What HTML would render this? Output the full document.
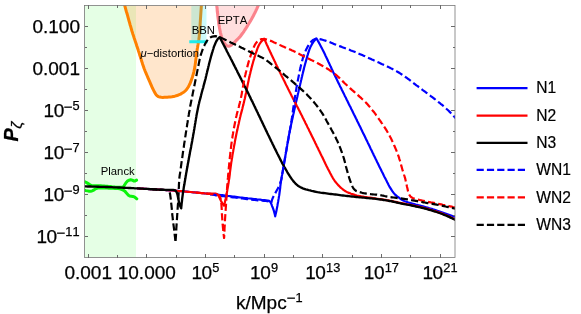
<!DOCTYPE html><html><head><meta charset="utf-8"><title>Power spectrum</title><style>html,body{margin:0;padding:0;background:#fff}body{width:581px;height:314px;overflow:hidden}</style></head><body><svg width="581" height="314" viewBox="0 0 581 314" style="display:block;will-change:transform">
<rect width="581" height="314" fill="#fff"/>
<defs><clipPath id="c"><rect x="84.5" y="5.4" width="370.5" height="252.1"/></clipPath></defs>
<g clip-path="url(#c)" fill="none" stroke-linejoin="round">
<rect x="84.5" y="5.4" width="51.5" height="252.1" fill="#00FF00" fill-opacity="0.1"/>
<path d="M121.9 -4.0L122.3 -2.6L122.8 -1.1L123.2 0.4L123.6 1.8L124.1 3.3L124.5 4.7L124.9 6.2L125.3 7.6L125.7 9.1L126.1 10.6L126.5 12.0L127.0 13.5L127.4 14.9L127.8 16.4L128.2 17.9L128.6 19.3L129.0 20.8L129.4 22.2L129.8 23.7L130.2 25.2L130.7 26.6L131.1 28.1L131.5 29.5L131.9 31.0L132.4 32.4L132.8 33.9L133.3 35.3L133.8 36.8L134.2 38.2L134.7 39.6L135.2 41.1L135.7 42.5L136.2 43.9L136.6 45.4L137.1 46.8L137.6 48.3L138.1 49.7L138.5 51.1L139.0 52.6L139.5 54.0L139.9 55.5L140.4 56.9L140.8 58.4L141.3 59.8L141.7 61.3L142.2 62.7L142.6 64.2L143.1 65.6L143.6 67.0L144.1 68.5L144.7 69.9L145.2 71.3L145.8 72.7L146.4 74.1L147.0 75.5L147.6 76.9L148.2 78.3L148.8 79.7L149.4 81.0L150.0 82.4L150.6 83.8L151.2 85.2L151.8 86.6L152.4 88.0L153.1 89.3L153.8 90.7L154.5 92.0L155.2 93.4L156.1 94.7L157.1 95.8L158.4 96.6L159.8 97.1L161.3 97.3L162.9 97.4L164.4 97.3L165.9 97.3L167.4 97.2L168.9 97.1L170.4 97.0L171.9 96.8L173.4 96.5L174.9 96.2L176.4 95.7L177.8 95.3L179.2 94.7L180.6 94.1L181.9 93.3L183.2 92.5L184.4 91.6L185.6 90.6L186.6 89.5L187.5 88.2L188.3 87.0L189.0 85.6L189.7 84.3L190.3 82.9L190.9 81.4L191.4 80.0L191.9 78.6L192.4 77.2L192.8 75.7L193.2 74.3L193.6 72.8L194.0 71.3L194.3 69.8L194.6 68.4L194.9 66.9L195.1 65.4L195.3 63.9L195.5 62.4L195.7 60.8L195.9 59.3L196.1 57.8L196.3 56.3L196.5 54.8L196.7 53.3L196.9 51.8L197.1 50.3L197.3 48.8L197.6 47.3L197.8 45.8L198.1 44.3L198.3 42.8L198.5 41.3L198.8 39.8L199.0 38.3L199.2 36.8L199.3 35.3L199.5 33.8L199.6 32.3L199.7 30.8L199.9 29.3L200.0 27.8L200.0 26.3L200.1 24.7L200.2 23.2L200.3 21.7L200.4 20.2L200.5 18.7L200.6 17.2L200.7 15.7L200.8 14.2L200.9 12.6L201.0 11.1L201.1 9.6L201.2 8.1L201.3 6.6L201.4 5.1L201.5 3.6L201.6 2.1L201.7 0.5L201.8 -1.0L201.9 -2.5L202.0 -4.0Z" fill="#FF8000" fill-opacity="0.2" stroke="#FF8000" stroke-width="3"/>
<rect x="191.3" y="5.4" width="15.2" height="36.3" fill="#00E5E5" fill-opacity="0.2"/>
<path d="M189.3 41.7H207.6" stroke="#1FEAEA" stroke-width="3"/>
<path d="M215.9 -4.0L216.1 -2.5L216.2 -0.9L216.4 0.6L216.5 2.1L216.6 3.6L216.8 5.2L216.9 6.7L217.1 8.2L217.2 9.8L217.3 11.3L217.5 12.8L217.7 14.3L217.8 15.9L218.0 17.4L218.2 18.9L218.4 20.4L218.6 21.9L218.8 23.5L219.0 25.0L219.3 26.5L219.5 28.0L219.8 29.5L220.1 31.0L220.4 32.6L220.8 34.0L221.1 35.5L221.5 37.0L222.0 38.4L222.5 39.9L223.1 41.3L223.9 42.6L224.9 44.0L226.1 45.2L227.4 46.0L228.8 46.2L230.3 45.8L231.7 44.9L232.9 43.9L234.0 42.8L235.0 41.8L236.1 40.7L237.2 39.6L238.3 38.5L239.4 37.4L240.4 36.2L241.3 35.0L242.2 33.8L243.1 32.6L244.0 31.3L244.8 30.0L245.7 28.7L246.5 27.4L247.3 26.1L248.1 24.8L248.9 23.5L249.7 22.2L250.5 20.9L251.3 19.5L252.0 18.2L252.8 16.9L253.5 15.5L254.2 14.1L254.9 12.8L255.6 11.4L256.2 10.0L256.9 8.6L257.5 7.2L258.1 5.8L258.8 4.4L259.4 3.0L260.0 1.6L260.6 0.2L261.2 -1.2L261.9 -2.6L262.5 -4.0Z" fill="#FF8080" fill-opacity="0.26" stroke="#FB838C" stroke-width="3.1"/>
<path d="M84.5 181.7L86.0 182.3L87.4 183.1L88.7 183.9L90.0 184.8L91.4 185.6L92.9 185.7L94.5 185.7L96.1 185.7L97.7 185.7L99.3 185.7L100.8 185.8L102.4 185.9L104.0 186.0L105.5 186.2L107.1 186.3L108.7 186.5L110.3 186.6L111.8 186.8L113.4 186.9L115.0 187.1L116.6 187.2L118.1 187.2L119.8 187.2L121.4 187.2L122.8 187.2L123.8 186.3L124.7 184.8L125.7 183.2L126.7 181.9L127.7 180.8L129.1 180.2L130.7 179.8L132.2 180.1L133.7 180.9L135.1 180.9L136.6 180.1" stroke="#0CF40C" stroke-width="3" stroke-linecap="round"/>
<path d="M84.5 190.2L86.0 190.6L87.6 190.9L89.1 191.2L90.7 191.3L92.2 190.9L93.6 190.2L94.9 189.3L96.3 188.5L97.7 188.0L99.3 188.0L100.8 188.0L102.4 188.0L104.0 188.1L105.5 188.1L107.1 188.1L108.7 188.2L110.3 188.2L111.9 188.3L113.4 188.3L115.0 188.4L116.6 188.5L118.1 188.6L119.7 188.9L121.2 189.3L122.7 189.9L124.1 190.6L125.2 191.5L126.2 192.8L127.3 194.0L128.4 195.2L129.7 196.0L131.2 196.2L132.8 196.4L134.3 196.9L135.6 197.8L136.8 198.8" stroke="#0CF40C" stroke-width="3" stroke-linecap="round"/>
<path d="M137.0 188.4L138.5 188.5L140.0 188.5L141.6 188.6L143.1 188.7L144.6 188.8L146.1 188.9L147.7 189.0L149.2 189.1L150.7 189.1L152.2 189.2L153.8 189.3L155.3 189.4L156.8 189.5L158.3 189.6L159.9 189.7L161.4 189.8L162.9 189.9L164.4 190.0L165.9 190.1L167.5 190.2L169.0 190.3L170.5 190.4L172.0 190.5L173.6 190.6L175.1 190.7L176.6 190.8L178.1 190.9L179.6 191.1L181.2 191.2L182.7 191.3L184.2 191.4L185.7 191.6L187.3 191.7L188.8 191.9L190.3 192.0L191.8 192.1L193.3 192.3L194.9 192.4L196.4 192.6L197.9 192.7L199.4 192.9L200.9 193.0L202.4 193.2L204.0 193.3L205.5 193.5L207.0 193.6L208.5 193.8L210.0 193.9L211.6 194.1L213.1 194.3L214.6 194.4L216.1 194.6L217.6 194.7L219.1 194.9L220.7 195.1L222.2 195.2L223.7 195.4L225.2 195.6L226.7 195.8L228.2 196.0L229.8 196.1L231.3 196.3L232.8 196.5L234.3 196.7L235.8 196.9L237.3 197.1L238.8 197.3L240.4 197.5L241.9 197.6L243.4 197.8L244.9 198.0L246.4 198.2L247.9 198.4L249.5 198.5L251.0 198.7L252.5 198.9L254.0 199.1L255.5 199.2L257.0 199.4L258.6 199.5L260.1 199.7L261.6 199.9L263.1 200.0L264.6 200.1L266.1 200.3L267.7 200.5L269.1 200.9L270.3 201.8L271.0 203.2L271.6 204.6L272.1 206.1L272.7 207.5L273.2 208.9L273.7 210.3L274.1 211.8L274.5 213.3L274.9 214.8L275.2 216.3L275.5 214.8L275.9 213.3L276.2 211.8L276.5 210.4L276.8 208.9L277.1 207.4L277.4 205.9L277.6 204.4L277.9 202.9L278.2 201.4L278.4 199.9L278.7 198.4L278.9 196.9L279.2 195.4L279.4 193.9L279.6 192.4L279.8 190.9L280.0 189.4L280.2 187.9L280.3 186.4L280.5 184.9L280.7 183.4L280.9 181.9L281.1 180.4L281.4 178.9L281.6 177.4L281.9 175.9L282.2 174.4L282.4 172.9L282.7 171.4L283.0 169.9L283.2 168.4L283.5 166.9L283.7 165.4L284.0 163.9L284.2 162.4L284.5 160.9L284.8 159.5L285.0 158.0L285.3 156.5L285.5 155.0L285.8 153.5L286.0 152.0L286.3 150.5L286.5 149.0L286.8 147.5L287.1 146.0L287.3 144.5L287.6 143.0L287.8 141.5L288.1 140.0L288.4 138.5L288.6 137.0L288.9 135.5L289.2 134.0L289.5 132.6L289.8 131.1L290.1 129.6L290.4 128.1L290.7 126.6L291.0 125.1L291.3 123.6L291.6 122.2L291.9 120.7L292.3 119.2L292.6 117.7L292.9 116.2L293.2 114.7L293.6 113.3L293.9 111.8L294.2 110.3L294.6 108.8L294.9 107.3L295.2 105.9L295.6 104.4L295.9 102.9L296.2 101.4L296.6 99.9L296.9 98.5L297.3 97.0L297.6 95.5L297.9 94.0L298.3 92.5L298.6 91.1L298.9 89.6L299.3 88.1L299.6 86.6L300.0 85.1L300.3 83.7L300.7 82.2L301.0 80.7L301.4 79.2L301.7 77.8L302.1 76.3L302.4 74.8L302.8 73.3L303.1 71.9L303.5 70.4L303.9 68.9L304.2 67.4L304.6 66.0L305.0 64.5L305.4 63.0L305.8 61.6L306.2 60.1L306.6 58.7L307.0 57.2L307.4 55.7L307.9 54.3L308.3 52.8L308.8 51.3L309.3 49.9L309.8 48.5L310.4 47.1L311.1 45.8L311.8 44.4L312.6 43.1L313.4 41.8L314.3 40.7L315.4 39.5L316.5 38.5L317.3 39.8L318.0 41.1L318.8 42.4L319.5 43.7L320.2 45.1L320.9 46.4L321.6 47.7L322.3 49.1L323.0 50.4L323.7 51.8L324.3 53.1L325.0 54.5L325.6 55.9L326.3 57.2L326.9 58.6L327.6 60.0L328.2 61.4L328.9 62.7L329.5 64.1L330.1 65.5L330.8 66.8L331.4 68.2L332.0 69.6L332.7 71.0L333.3 72.3L334.0 73.7L334.6 75.1L335.3 76.4L336.0 77.8L336.6 79.1L337.3 80.5L337.9 81.8L338.6 83.2L339.3 84.6L339.9 85.9L340.6 87.3L341.3 88.6L341.9 90.0L342.6 91.3L343.3 92.7L344.0 94.1L344.6 95.4L345.3 96.8L346.0 98.1L346.6 99.5L347.3 100.8L348.0 102.2L348.6 103.5L349.3 104.9L350.0 106.3L350.7 107.6L351.3 109.0L352.0 110.3L352.7 111.7L353.3 113.0L354.0 114.4L354.7 115.7L355.3 117.1L356.0 118.5L356.7 119.8L357.3 121.2L358.0 122.5L358.7 123.9L359.3 125.2L360.0 126.6L360.7 128.0L361.3 129.3L362.0 130.7L362.6 132.0L363.3 133.4L364.0 134.8L364.6 136.1L365.3 137.5L365.9 138.8L366.6 140.2L367.3 141.6L367.9 142.9L368.6 144.3L369.2 145.6L369.9 147.0L370.5 148.4L371.2 149.7L371.9 151.1L372.5 152.5L373.2 153.8L373.8 155.2L374.5 156.5L375.2 157.9L375.8 159.3L376.5 160.6L377.1 162.0L377.8 163.3L378.5 164.7L379.1 166.0L379.8 167.4L380.5 168.8L381.1 170.1L381.8 171.5L382.5 172.8L383.2 174.2L383.8 175.5L384.5 176.9L385.2 178.2L385.9 179.6L386.6 180.9L387.2 182.3L387.9 183.6L388.6 185.0L389.3 186.3L390.1 187.6L390.9 188.9L391.7 190.2L392.5 191.4L393.4 192.6L394.4 193.8L395.4 194.9L396.6 195.9L397.8 196.8L399.0 197.7L400.2 198.6L401.5 199.5L402.8 200.2L404.1 200.9L405.5 201.5L407.0 202.0L408.4 202.5L409.8 202.9L411.3 203.3L412.8 203.7L414.2 204.1L415.7 204.5L417.1 204.8L418.6 205.2L420.1 205.6L421.5 206.0L423.0 206.4L424.5 206.8L425.9 207.2L427.4 207.6L428.8 208.1L430.3 208.5L431.7 208.9L433.1 209.4L434.6 209.8L436.0 210.3L437.5 210.8L438.9 211.2L440.3 211.7L441.8 212.2L443.2 212.7L444.6 213.2L446.1 213.7L447.5 214.2L448.9 214.7L450.3 215.2L451.7 215.7L453.2 216.2L454.6 216.8L456.0 217.3" stroke="#0000FF" stroke-width="2.2" stroke-linejoin="round"/>
<path d="M137.0 188.4L138.5 188.5L140.1 188.5L141.6 188.6L143.2 188.7L144.7 188.8L146.2 188.9L147.8 189.0L149.3 189.1L150.8 189.2L152.4 189.2L153.9 189.3L155.5 189.4L157.0 189.5L158.5 189.6L160.1 189.7L161.6 189.8L163.2 189.9L164.7 190.0L166.2 190.1L167.8 190.2L169.3 190.3L170.8 190.4L172.4 190.5L173.9 190.6L175.5 190.7L177.0 190.8L178.5 191.0L180.1 191.1L181.6 191.2L183.1 191.4L184.7 191.5L186.2 191.6L187.7 191.8L189.3 191.9L190.8 192.0L192.3 192.2L193.9 192.3L195.4 192.5L196.9 192.6L198.5 192.8L200.0 192.9L201.5 193.1L203.1 193.2L204.6 193.4L206.1 193.5L207.7 193.5L209.2 193.5L210.8 193.5L212.3 193.5L213.9 193.5L215.4 193.5L216.9 194.0L218.0 195.0L218.8 196.3L219.5 197.7L220.2 199.1L220.8 200.5L221.5 201.9L222.3 203.2L223.1 204.5L224.1 205.7L224.4 204.2L224.8 202.7L225.1 201.3L225.4 199.8L225.8 198.3L226.1 196.8L226.4 195.3L226.6 193.8L226.9 192.4L227.2 190.9L227.4 189.4L227.7 187.9L228.0 186.4L228.2 184.9L228.5 183.4L228.7 181.9L228.9 180.4L229.2 178.9L229.4 177.4L229.6 175.9L229.8 174.4L229.9 172.9L230.1 171.4L230.3 169.9L230.5 168.4L230.7 166.9L230.9 165.4L231.1 163.9L231.3 162.4L231.6 160.9L231.8 159.4L232.1 157.9L232.3 156.4L232.5 154.9L232.8 153.4L233.1 151.9L233.3 150.4L233.6 148.9L233.9 147.4L234.1 145.9L234.4 144.5L234.7 143.0L234.9 141.5L235.2 140.0L235.5 138.5L235.8 137.0L236.1 135.5L236.4 134.1L236.7 132.6L237.0 131.1L237.4 129.6L237.7 128.1L238.0 126.6L238.3 125.2L238.7 123.7L239.0 122.2L239.3 120.7L239.7 119.2L240.0 117.8L240.4 116.3L240.7 114.8L241.1 113.4L241.5 111.9L241.9 110.4L242.3 109.0L242.6 107.5L243.0 106.0L243.4 104.6L243.7 103.1L244.1 101.6L244.4 100.1L244.8 98.7L245.1 97.2L245.4 95.7L245.7 94.2L246.1 92.7L246.4 91.2L246.7 89.8L247.0 88.3L247.3 86.8L247.6 85.3L247.9 83.8L248.2 82.3L248.5 80.9L248.8 79.4L249.1 77.9L249.5 76.4L249.8 74.9L250.2 73.5L250.5 72.0L250.9 70.5L251.3 69.1L251.6 67.6L252.0 66.1L252.4 64.6L252.8 63.2L253.2 61.7L253.6 60.3L254.1 58.8L254.5 57.4L255.0 55.9L255.4 54.5L255.9 53.0L256.4 51.6L256.9 50.1L257.4 48.7L258.0 47.2L258.6 45.8L259.3 44.5L260.0 43.3L260.9 42.1L261.9 41.0L263.0 39.9L264.2 38.9L264.8 40.3L265.5 41.6L266.1 43.0L266.7 44.4L267.4 45.8L268.0 47.1L268.6 48.5L269.3 49.9L269.9 51.2L270.5 52.6L271.2 54.0L271.8 55.3L272.5 56.7L273.1 58.1L273.8 59.4L274.4 60.8L275.1 62.1L275.7 63.5L276.4 64.9L277.0 66.2L277.7 67.6L278.3 68.9L279.0 70.3L279.7 71.7L280.3 73.0L281.0 74.4L281.6 75.7L282.3 77.1L283.0 78.4L283.6 79.8L284.3 81.1L285.0 82.5L285.6 83.8L286.3 85.2L287.0 86.5L287.7 87.9L288.3 89.2L289.0 90.6L289.7 91.9L290.4 93.3L291.0 94.6L291.7 96.0L292.4 97.3L293.1 98.7L293.8 100.0L294.5 101.3L295.2 102.7L295.9 104.0L296.6 105.4L297.3 106.7L298.0 108.0L298.7 109.4L299.4 110.7L300.0 112.1L300.7 113.4L301.4 114.8L302.1 116.1L302.7 117.5L303.4 118.8L304.1 120.2L304.8 121.5L305.4 122.9L306.1 124.2L306.8 125.6L307.4 126.9L308.1 128.3L308.8 129.6L309.4 131.0L310.1 132.3L310.8 133.7L311.4 135.1L312.1 136.4L312.8 137.8L313.4 139.1L314.1 140.5L314.8 141.8L315.4 143.2L316.1 144.5L316.7 145.9L317.4 147.2L318.1 148.6L318.7 150.0L319.4 151.3L320.1 152.7L320.7 154.0L321.4 155.4L322.1 156.7L322.7 158.1L323.4 159.5L324.0 160.8L324.7 162.2L325.3 163.5L326.0 164.9L326.6 166.3L327.3 167.6L328.0 169.0L328.7 170.3L329.4 171.6L330.1 173.0L330.8 174.3L331.5 175.6L332.3 177.0L333.0 178.3L333.8 179.5L334.7 180.8L335.6 182.0L336.5 183.1L337.5 184.3L338.5 185.4L339.6 186.5L340.7 187.6L341.8 188.5L343.0 189.5L344.2 190.4L345.5 191.2L346.8 191.9L348.2 192.6L349.6 193.1L351.0 193.7L352.4 194.1L353.9 194.6L355.3 195.1L356.8 195.5L358.2 195.8L359.7 196.1L361.2 196.4L362.7 196.6L364.2 196.9L365.7 197.1L367.2 197.3L368.7 197.5L370.1 197.7L371.6 197.9L373.1 198.1L374.6 198.3L376.1 198.6L377.6 198.8L379.1 199.0L380.6 199.2L382.1 199.4L383.6 199.6L385.1 199.8L386.6 200.1L388.1 200.3L389.6 200.6L391.0 200.8L392.5 201.1L394.0 201.5L395.5 201.8L396.9 202.1L398.4 202.5L399.9 202.8L401.4 203.1L402.8 203.4L404.3 203.7L405.8 204.0L407.3 204.3L408.8 204.6L410.2 204.9L411.7 205.2L413.2 205.5L414.7 205.8L416.2 206.1L417.6 206.4L419.1 206.7L420.6 207.1L422.0 207.4L423.5 207.8L425.0 208.2L426.4 208.5L427.9 208.9L429.3 209.4L430.8 209.8L432.2 210.2L433.7 210.7L435.1 211.1L436.5 211.6L438.0 212.1L439.4 212.6L440.8 213.1L442.2 213.6L443.6 214.2L445.0 214.8L446.4 215.3L447.8 215.9L449.2 216.5L450.5 217.2L451.9 217.8L453.3 218.5L454.6 219.1L456.0 219.8" stroke="#FF0000" stroke-width="2.2" stroke-linejoin="round"/>
<path d="M84.5 186.4L86.0 186.4L87.6 186.5L89.1 186.5L90.6 186.5L92.1 186.6L93.7 186.6L95.2 186.6L96.7 186.7L98.3 186.7L99.8 186.8L101.3 186.8L102.8 186.9L104.4 186.9L105.9 187.0L107.4 187.0L108.9 187.1L110.5 187.1L112.0 187.2L113.5 187.3L115.1 187.3L116.6 187.4L118.1 187.5L119.6 187.5L121.2 187.6L122.7 187.7L124.2 187.7L125.7 187.8L127.3 187.9L128.8 188.0L130.3 188.0L131.8 188.1L133.4 188.2L134.9 188.3L136.4 188.3L138.0 188.4L139.5 188.5L141.0 188.6L142.5 188.7L144.1 188.8L145.6 188.9L147.1 188.9L148.6 189.0L150.2 189.1L151.7 189.2L153.2 189.3L154.7 189.4L156.3 189.5L157.8 189.6L159.3 189.7L160.8 189.7L162.4 189.7L163.9 189.8L165.4 189.8L167.0 189.8L168.5 189.8L170.0 189.8L171.6 189.8L173.1 189.8L174.6 190.1L175.8 190.9L176.7 192.3L177.2 193.7L177.6 195.2L177.9 196.7L178.2 198.2L178.5 199.7L178.8 201.2L179.1 202.7L179.6 204.1L180.0 205.6L180.6 207.0L181.2 208.4L181.3 206.9L181.5 205.4L181.6 203.9L181.8 202.3L182.0 200.8L182.1 199.3L182.3 197.8L182.5 196.3L182.7 194.8L182.9 193.3L183.1 191.8L183.4 190.3L183.6 188.8L183.8 187.3L184.1 185.8L184.4 184.3L184.6 182.8L184.9 181.3L185.1 179.8L185.4 178.3L185.6 176.8L185.9 175.3L186.1 173.8L186.4 172.3L186.7 170.8L186.9 169.3L187.2 167.8L187.5 166.3L187.7 164.8L188.0 163.3L188.3 161.8L188.6 160.3L188.8 158.8L189.1 157.3L189.4 155.8L189.7 154.3L189.9 152.8L190.2 151.3L190.5 149.8L190.8 148.4L191.1 146.9L191.3 145.4L191.6 143.9L191.9 142.4L192.2 140.9L192.4 139.4L192.7 137.9L193.0 136.4L193.2 134.9L193.5 133.4L193.8 131.9L194.0 130.4L194.3 128.9L194.5 127.4L194.8 125.9L195.0 124.4L195.3 122.9L195.5 121.4L195.8 119.9L196.0 118.4L196.3 116.9L196.5 115.4L196.8 113.9L197.1 112.4L197.4 110.9L197.7 109.4L198.0 107.9L198.3 106.4L198.6 105.0L199.0 103.5L199.3 102.0L199.7 100.5L200.1 99.1L200.5 97.6L200.9 96.1L201.2 94.7L201.6 93.2L202.0 91.7L202.4 90.2L202.8 88.8L203.3 87.3L203.6 85.8L204.0 84.4L204.4 82.9L204.8 81.4L205.2 80.0L205.6 78.5L205.9 77.0L206.3 75.5L206.6 74.0L207.0 72.6L207.3 71.1L207.7 69.6L208.1 68.1L208.4 66.6L208.8 65.2L209.1 63.7L209.5 62.2L209.9 60.7L210.3 59.3L210.7 57.8L211.1 56.3L211.5 54.9L211.9 53.4L212.4 51.9L212.8 50.5L213.3 49.0L213.7 47.5L214.2 46.1L214.8 44.7L215.4 43.3L216.0 41.9L216.7 40.6L217.5 39.3L218.5 38.2L219.7 37.2L220.4 38.5L221.1 39.9L221.8 41.2L222.5 42.6L223.2 43.9L223.9 45.3L224.6 46.6L225.3 47.9L226.0 49.3L226.6 50.6L227.3 52.0L228.0 53.3L228.7 54.7L229.4 56.0L230.1 57.3L230.8 58.7L231.5 60.0L232.2 61.4L232.9 62.7L233.5 64.1L234.2 65.4L234.9 66.8L235.6 68.1L236.3 69.5L237.0 70.8L237.6 72.2L238.3 73.5L239.0 74.9L239.7 76.2L240.4 77.6L241.1 78.9L241.7 80.3L242.4 81.6L243.1 83.0L243.8 84.3L244.4 85.7L245.1 87.0L245.8 88.4L246.5 89.7L247.1 91.1L247.8 92.4L248.5 93.8L249.1 95.1L249.8 96.5L250.5 97.9L251.1 99.2L251.8 100.6L252.5 101.9L253.1 103.3L253.8 104.7L254.4 106.0L255.1 107.4L255.7 108.7L256.4 110.1L257.0 111.5L257.7 112.8L258.3 114.2L259.0 115.6L259.6 116.9L260.3 118.3L260.9 119.7L261.6 121.0L262.2 122.4L262.9 123.8L263.5 125.1L264.2 126.5L264.8 127.8L265.5 129.2L266.1 130.6L266.8 131.9L267.4 133.3L268.1 134.7L268.8 136.0L269.4 137.4L270.1 138.7L270.7 140.1L271.4 141.5L272.1 142.8L272.7 144.2L273.4 145.5L274.0 146.9L274.7 148.3L275.4 149.6L276.1 151.0L276.7 152.3L277.4 153.7L278.1 155.0L278.8 156.4L279.5 157.7L280.1 159.1L280.8 160.4L281.5 161.7L282.2 163.1L282.9 164.4L283.7 165.7L284.4 167.0L285.2 168.4L285.9 169.7L286.7 171.0L287.4 172.3L288.2 173.6L289.0 174.9L289.8 176.2L290.6 177.4L291.5 178.7L292.4 179.9L293.3 181.1L294.3 182.2L295.3 183.3L296.4 184.4L297.6 185.4L298.8 186.2L300.1 187.0L301.4 187.7L302.8 188.3L304.2 188.8L305.7 189.3L307.1 189.7L308.6 190.1L310.1 190.4L311.5 190.8L313.0 191.1L314.5 191.5L316.0 191.8L317.5 192.1L318.9 192.3L320.4 192.6L321.9 192.8L323.4 193.0L324.9 193.2L326.4 193.4L327.9 193.6L329.4 193.8L330.9 194.0L332.4 194.2L333.9 194.4L335.4 194.5L336.9 194.7L338.4 194.9L339.9 195.1L341.4 195.3L342.9 195.5L344.4 195.7L345.9 195.9L347.4 196.0L348.9 196.2L350.4 196.4L351.9 196.5L353.4 196.7L354.9 196.9L356.4 197.0L357.9 197.2L359.4 197.3L361.0 197.4L362.5 197.6L364.0 197.7L365.5 197.8L367.0 198.0L368.5 198.1L370.0 198.3L371.5 198.4L373.0 198.6L374.5 198.7L376.0 198.9L377.5 199.1L379.0 199.3L380.5 199.5L382.0 199.7L383.5 200.0L385.0 200.2L386.5 200.4L388.0 200.7L389.4 201.0L390.9 201.2L392.4 201.5L393.9 201.8L395.4 202.2L396.8 202.5L398.3 202.8L399.8 203.2L401.3 203.5L402.7 203.8L404.2 204.1L405.7 204.4L407.2 204.7L408.7 204.9L410.2 205.2L411.7 205.5L413.1 205.8L414.6 206.1L416.1 206.5L417.6 206.8L419.0 207.1L420.5 207.4L422.0 207.8L423.4 208.2L424.9 208.5L426.4 208.9L427.8 209.3L429.3 209.8L430.7 210.2L432.2 210.6L433.6 211.1L435.1 211.5L436.5 212.0L437.9 212.5L439.4 213.0L440.8 213.5L442.2 214.0L443.6 214.6L445.0 215.2L446.4 215.7L447.8 216.3L449.2 216.9L450.5 217.6L451.9 218.2L453.3 218.9L454.6 219.5L456.0 220.2" stroke="#000" stroke-width="2.35" stroke-linejoin="round"/>
<path d="M210.0 194.3L211.6 194.4L213.1 194.6L214.6 194.9L216.1 195.4L217.6 195.6L219.2 195.7L220.7 195.9L222.3 196.1L223.8 196.2L225.4 196.4L226.9 196.6L228.5 196.8L230.0 197.0L231.5 197.2L233.1 197.4L234.6 197.5L236.2 197.7L237.7 197.9L239.3 198.1L240.8 198.3L242.3 198.5L243.9 198.7L245.4 198.9L247.0 199.1L248.5 199.2L250.1 199.4L251.6 199.6L253.2 199.8L254.7 199.9L256.2 200.1L257.8 200.3L259.3 200.4L260.9 200.6L262.4 200.7L264.0 200.9L265.5 201.0L267.1 201.1L268.6 201.5L269.9 202.3L271.3 203.0L271.6 201.5L272.0 200.0L272.5 198.6L273.1 197.2L273.8 195.9L274.5 194.5L275.3 193.2L276.0 191.8L276.7 190.5L277.5 189.1L278.2 187.8L278.8 186.4L279.4 185.0L280.0 183.6L280.5 182.2L281.0 180.7L281.4 179.3L281.7 177.8L282.0 176.3L282.2 174.8L282.4 173.3L282.7 171.7L282.9 170.2L283.2 168.7L283.4 167.2L283.7 165.7L283.9 164.2L284.2 162.7L284.4 161.2L284.7 159.7L285.0 158.2L285.2 156.7L285.5 155.2L285.8 153.7L286.0 152.2L286.3 150.7L286.6 149.2L286.8 147.7L287.1 146.2L287.4 144.7L287.6 143.2L287.9 141.7L288.2 140.2L288.4 138.7L288.7 137.2L288.9 135.7L289.2 134.2L289.5 132.7L289.7 131.2L290.0 129.7L290.2 128.2L290.5 126.7L290.8 125.2L291.0 123.7L291.2 122.2L291.5 120.7L291.7 119.2L292.0 117.7L292.2 116.2L292.4 114.7L292.6 113.2L292.8 111.7L293.0 110.1L293.2 108.6L293.4 107.1L293.7 105.6L293.9 104.1L294.1 102.6L294.3 101.1L294.5 99.6L294.8 98.1L295.0 96.6L295.3 95.1L295.5 93.6L295.8 92.1L296.0 90.6L296.3 89.1L296.5 87.6L296.8 86.1L297.1 84.6L297.3 83.1L297.6 81.6L297.9 80.1L298.2 78.6L298.5 77.1L298.8 75.6L299.1 74.1L299.4 72.6L299.7 71.1L300.0 69.6L300.4 68.1L300.7 66.6L301.0 65.2L301.4 63.7L301.8 62.2L302.2 60.7L302.6 59.3L303.0 57.8L303.5 56.4L304.0 54.9L304.5 53.5L305.1 52.0L305.7 50.6L306.3 49.2L307.0 47.9L307.7 46.6L308.5 45.2L309.4 43.8L310.3 42.6L311.3 41.5L312.4 40.5L313.6 39.7L315.0 39.1L316.5 38.5L318.0 38.8L319.5 39.1L321.0 39.4L322.5 39.8L323.9 40.2L325.4 40.6L326.8 41.1L328.3 41.6L329.7 42.1L331.1 42.7L332.5 43.3L333.9 43.9L335.3 44.5L336.7 45.1L338.1 45.6L339.6 46.1L341.0 46.6L342.4 47.2L343.8 47.7L345.3 48.2L346.7 48.7L348.1 49.3L349.5 49.8L350.9 50.4L352.4 51.0L353.8 51.5L355.2 52.1L356.6 52.7L358.0 53.3L359.4 53.9L360.8 54.5L362.2 55.1L363.6 55.7L365.0 56.3L366.3 57.0L367.7 57.6L369.1 58.2L370.5 58.8L371.9 59.5L373.3 60.1L374.7 60.7L376.0 61.3L377.4 62.0L378.8 62.6L380.2 63.2L381.6 63.9L383.0 64.5L384.3 65.1L385.7 65.8L387.1 66.4L388.5 67.1L389.9 67.7L391.2 68.4L392.6 69.1L393.9 69.8L395.3 70.5L396.6 71.3L397.9 72.0L399.2 72.8L400.5 73.6L401.8 74.5L403.0 75.3L404.3 76.1L405.5 77.0L406.8 77.9L408.0 78.8L409.2 79.7L410.4 80.6L411.6 81.6L412.8 82.5L414.0 83.5L415.2 84.4L416.4 85.3L417.7 86.2L418.9 87.2L420.1 88.1L421.3 89.0L422.5 89.9L423.8 90.8L425.0 91.7L426.2 92.6L427.4 93.5L428.6 94.4L429.9 95.3L431.1 96.3L432.3 97.2L433.5 98.1L434.7 99.0L435.9 100.0L437.1 100.9L438.3 101.9L439.5 102.8L440.6 103.8L441.8 104.7L443.0 105.7L444.1 106.7L445.3 107.7L446.4 108.8L447.5 109.8L448.6 110.8L449.7 111.9L450.8 113.0L451.8 114.0L452.9 115.1L453.9 116.3L455.0 117.4L456.0 118.5" stroke="#0000FF" stroke-width="2.2" stroke-dasharray="7.2 3.2" stroke-linejoin="round"/>
<path d="M196.0 192.5L197.5 192.7L199.1 192.8L200.6 193.0L202.1 193.1L203.7 193.3L205.2 193.5L206.8 193.6L208.3 193.8L209.8 193.9L211.4 194.1L212.9 194.2L214.5 194.4L216.0 194.6L217.6 194.8L219.0 195.3L219.8 196.5L220.4 198.0L220.7 199.5L221.0 201.1L221.2 202.6L221.4 204.1L221.5 205.7L221.6 207.2L221.7 208.7L221.8 210.3L221.8 211.8L221.9 213.4L222.0 214.9L222.1 216.5L222.2 218.0L222.3 219.6L222.4 221.1L222.5 222.6L222.6 224.2L222.8 225.7L222.9 227.2L223.1 228.8L223.2 230.3L223.4 231.9L223.6 233.4L223.7 234.9L223.9 236.5L224.1 238.0L224.2 236.5L224.2 235.0L224.3 233.4L224.4 231.9L224.5 230.4L224.5 228.9L224.6 227.4L224.7 225.9L224.8 224.4L224.9 222.8L224.9 221.3L225.0 219.8L225.1 218.3L225.2 216.8L225.3 215.3L225.4 213.7L225.5 212.2L225.6 210.7L225.7 209.2L225.8 207.7L225.9 206.2L226.0 204.7L226.1 203.1L226.2 201.6L226.3 200.1L226.4 198.6L226.5 197.1L226.6 195.6L226.7 194.0L226.8 192.5L226.9 191.0L227.0 189.5L227.1 188.0L227.2 186.5L227.3 185.0L227.5 183.4L227.6 181.9L227.7 180.4L227.8 178.9L228.0 177.4L228.1 175.9L228.2 174.4L228.4 172.9L228.5 171.3L228.6 169.8L228.8 168.3L228.9 166.8L229.1 165.3L229.2 163.8L229.4 162.3L229.5 160.8L229.7 159.2L229.8 157.7L230.0 156.2L230.2 154.7L230.3 153.2L230.5 151.7L230.7 150.2L230.9 148.7L231.0 147.2L231.2 145.7L231.4 144.2L231.6 142.7L231.8 141.2L232.0 139.7L232.3 138.2L232.5 136.7L232.7 135.2L233.0 133.7L233.2 132.2L233.5 130.7L233.7 129.2L234.0 127.7L234.3 126.2L234.6 124.7L234.9 123.2L235.2 121.7L235.5 120.2L235.8 118.7L236.1 117.3L236.5 115.8L236.8 114.3L237.2 112.8L237.6 111.4L238.0 109.9L238.4 108.4L238.8 107.0L239.1 105.5L239.5 104.0L239.9 102.5L240.2 101.1L240.6 99.6L240.9 98.1L241.2 96.6L241.5 95.1L241.8 93.6L242.0 92.1L242.3 90.6L242.6 89.1L242.8 87.6L243.1 86.1L243.4 84.7L243.7 83.2L243.9 81.7L244.2 80.2L244.5 78.7L244.8 77.2L245.1 75.7L245.5 74.2L245.8 72.8L246.2 71.3L246.5 69.8L246.9 68.3L247.3 66.9L247.7 65.4L248.1 63.9L248.5 62.4L248.9 61.0L249.4 59.5L249.8 58.1L250.3 56.6L250.8 55.2L251.3 53.8L251.8 52.3L252.3 50.8L252.9 49.3L253.5 47.9L254.1 46.4L254.8 45.1L255.5 43.8L256.3 42.7L257.2 41.6L258.4 40.5L259.8 39.6L261.2 39.2L262.6 39.0L264.2 38.9L265.7 39.3L267.1 39.7L268.6 40.1L270.0 40.6L271.4 41.1L272.8 41.7L274.2 42.4L275.5 43.0L276.9 43.7L278.3 44.3L279.7 44.9L281.0 45.6L282.4 46.2L283.8 46.8L285.2 47.4L286.6 48.0L288.0 48.6L289.4 49.2L290.7 49.8L292.1 50.5L293.5 51.1L294.8 51.7L296.2 52.4L297.5 53.1L298.9 53.8L300.2 54.5L301.6 55.2L302.9 55.9L304.3 56.5L305.6 57.2L307.0 57.9L308.3 58.6L309.7 59.2L311.1 59.9L312.4 60.6L313.8 61.2L315.1 61.9L316.5 62.6L317.8 63.3L319.1 64.0L320.5 64.8L321.8 65.5L323.1 66.2L324.4 67.0L325.7 67.7L327.0 68.5L328.3 69.3L329.6 70.1L330.8 71.0L332.1 71.8L333.3 72.7L334.5 73.6L335.7 74.6L336.8 75.5L337.9 76.6L339.0 77.6L340.1 78.7L341.2 79.8L342.2 80.8L343.3 81.9L344.4 83.0L345.5 84.0L346.6 85.0L347.7 86.0L348.9 87.1L350.0 88.1L351.1 89.1L352.2 90.1L353.4 91.1L354.5 92.1L355.6 93.1L356.7 94.1L357.9 95.1L359.0 96.1L360.1 97.2L361.3 98.2L362.4 99.2L363.5 100.2L364.6 101.3L365.6 102.3L366.7 103.4L367.7 104.5L368.7 105.7L369.7 106.8L370.6 108.0L371.6 109.2L372.5 110.4L373.5 111.5L374.4 112.7L375.3 113.9L376.2 115.2L377.1 116.4L378.0 117.6L378.8 118.9L379.7 120.1L380.6 121.3L381.4 122.6L382.3 123.8L383.1 125.1L384.0 126.4L384.8 127.6L385.6 128.9L386.4 130.2L387.2 131.5L387.9 132.8L388.7 134.1L389.4 135.4L390.1 136.8L390.8 138.1L391.5 139.5L392.1 140.8L392.8 142.2L393.4 143.6L394.0 145.0L394.6 146.3L395.2 147.7L395.8 149.1L396.4 150.5L396.9 151.9L397.4 153.4L398.0 154.8L398.5 156.2L399.0 157.6L399.4 159.1L399.9 160.5L400.3 162.0L400.7 163.4L401.1 164.9L401.5 166.4L401.9 167.8L402.3 169.3L402.7 170.7L403.2 172.2L403.7 173.6L404.1 175.0L404.6 176.5L405.0 177.9L405.4 179.4L405.7 180.9L406.0 182.3L406.4 183.8L406.7 185.3L407.0 186.8L407.4 188.2L407.7 189.7L408.0 191.2L408.4 192.7L408.9 194.1L409.7 195.4L410.6 196.6L411.8 197.5L413.2 198.2L414.6 198.6L416.1 199.0L417.5 199.4L419.0 199.8L420.5 200.2L422.0 200.5L423.4 200.8L424.9 201.2L426.4 201.5L427.9 201.8L429.3 202.1L430.8 202.4L432.3 202.6L433.8 202.9L435.3 203.2L436.8 203.5L438.3 203.8L439.7 204.1L441.2 204.4L442.7 204.8L444.2 205.1L445.7 205.4L447.1 205.7L448.6 206.0L450.1 206.3L451.6 206.6L453.0 207.0L454.5 207.3L456.0 207.6" stroke="#FF0000" stroke-width="2.2" stroke-dasharray="7.2 3.2" stroke-linejoin="round"/>
<path d="M150.0 189.1L151.5 189.2L153.1 189.3L154.6 189.4L156.2 189.5L157.7 189.6L159.3 189.7L160.8 189.7L162.4 189.8L163.9 189.9L165.4 190.0L167.0 190.2L168.5 190.6L169.4 191.8L169.9 193.3L170.2 194.8L170.4 196.3L170.6 197.9L170.8 199.4L171.0 201.0L171.1 202.5L171.3 204.1L171.5 205.6L171.6 207.1L171.8 208.7L171.9 210.2L172.1 211.8L172.2 213.3L172.3 214.8L172.5 216.4L172.7 217.9L172.8 219.5L173.0 221.0L173.2 222.5L173.4 224.1L173.6 225.6L173.8 227.1L174.0 228.7L174.2 230.2L174.4 231.7L174.6 233.3L174.7 234.8L174.9 236.3L175.1 237.9L175.2 239.4L175.4 241.0L175.5 242.5L175.6 241.0L175.7 239.5L175.8 238.0L175.9 236.5L176.0 234.9L176.1 233.4L176.2 231.9L176.3 230.4L176.3 228.9L176.4 227.4L176.5 225.9L176.6 224.4L176.7 222.9L176.8 221.4L176.9 219.8L177.0 218.3L177.1 216.8L177.2 215.3L177.3 213.8L177.4 212.3L177.5 210.8L177.6 209.3L177.7 207.8L177.8 206.3L177.9 204.7L178.1 203.2L178.2 201.7L178.3 200.2L178.4 198.7L178.4 197.2L178.5 195.7L178.6 194.2L178.6 192.7L178.7 191.1L178.7 189.6L178.8 188.1L178.9 186.6L178.9 185.1L179.0 183.6L179.1 182.1L179.2 180.6L179.3 179.1L179.4 177.6L179.6 176.1L179.8 174.6L180.1 173.1L180.3 171.6L180.5 170.1L180.7 168.6L180.9 167.1L181.1 165.6L181.3 164.1L181.5 162.6L181.7 161.1L181.9 159.6L182.2 158.1L182.4 156.6L182.6 155.1L182.8 153.6L183.0 152.1L183.2 150.6L183.5 149.1L183.7 147.6L183.9 146.1L184.1 144.6L184.3 143.1L184.6 141.6L184.8 140.1L185.0 138.6L185.2 137.1L185.5 135.6L185.7 134.1L185.9 132.6L186.2 131.1L186.4 129.6L186.6 128.1L186.9 126.6L187.1 125.1L187.3 123.6L187.6 122.2L187.8 120.7L188.0 119.2L188.3 117.7L188.5 116.2L188.8 114.7L189.0 113.2L189.3 111.7L189.6 110.2L189.8 108.7L190.1 107.2L190.3 105.7L190.6 104.3L190.9 102.8L191.2 101.3L191.5 99.8L191.8 98.3L192.1 96.8L192.4 95.4L192.7 93.9L193.0 92.4L193.3 90.9L193.6 89.4L193.9 87.9L194.2 86.5L194.5 85.0L194.8 83.5L195.1 82.0L195.4 80.5L195.7 79.0L196.0 77.5L196.3 76.1L196.6 74.6L196.9 73.1L197.2 71.6L197.5 70.1L197.8 68.6L198.1 67.2L198.4 65.7L198.7 64.2L199.0 62.7L199.3 61.2L199.6 59.7L200.0 58.3L200.3 56.8L200.7 55.3L201.1 53.9L201.6 52.5L202.1 51.0L202.6 49.6L203.1 48.2L203.7 46.8L204.4 45.4L205.0 44.1L205.8 42.7L206.6 41.4L207.5 40.2L208.4 39.0L209.5 38.0L210.8 37.2L212.3 36.6L213.8 36.3L215.2 36.2L216.7 36.3L218.2 36.7L219.7 37.2L221.1 37.8L222.5 38.4L223.8 39.1L225.2 39.7L226.6 40.4L227.9 41.0L229.3 41.7L230.7 42.4L232.0 43.0L233.4 43.7L234.7 44.3L236.1 45.0L237.5 45.7L238.8 46.3L240.2 47.0L241.5 47.7L242.9 48.3L244.2 49.0L245.6 49.7L247.0 50.3L248.3 51.0L249.7 51.7L251.0 52.4L252.4 53.0L253.8 53.7L255.1 54.3L256.5 55.0L257.9 55.6L259.3 56.3L260.6 56.9L262.0 57.6L263.3 58.3L264.6 59.1L265.9 59.9L267.1 60.8L268.3 61.7L269.5 62.6L270.7 63.6L271.8 64.5L273.0 65.5L274.2 66.4L275.4 67.4L276.6 68.3L277.7 69.3L278.9 70.2L280.1 71.2L281.2 72.2L282.4 73.1L283.6 74.1L284.7 75.1L285.9 76.1L287.1 77.0L288.2 78.0L289.4 79.0L290.5 80.0L291.7 80.9L292.8 81.9L294.0 82.9L295.1 83.9L296.3 84.9L297.4 85.9L298.5 86.9L299.7 87.9L300.8 88.9L301.9 89.9L303.0 90.9L304.2 92.0L305.3 93.0L306.4 94.0L307.4 95.1L308.5 96.2L309.5 97.3L310.6 98.4L311.6 99.5L312.6 100.6L313.6 101.8L314.6 103.0L315.5 104.1L316.5 105.3L317.4 106.5L318.3 107.7L319.2 108.9L320.1 110.1L320.9 111.4L321.8 112.6L322.6 113.9L323.4 115.2L324.1 116.5L324.9 117.8L325.7 119.1L326.4 120.5L327.1 121.8L327.9 123.1L328.6 124.5L329.3 125.8L330.1 127.1L330.8 128.4L331.5 129.8L332.2 131.1L333.0 132.4L333.7 133.8L334.4 135.1L335.1 136.5L335.8 137.8L336.4 139.2L337.1 140.5L337.7 141.9L338.3 143.3L338.9 144.7L339.5 146.1L340.0 147.5L340.6 148.9L341.1 150.3L341.6 151.7L342.1 153.2L342.6 154.6L343.1 156.0L343.6 157.5L344.0 158.9L344.4 160.4L344.8 161.8L345.2 163.3L345.6 164.8L345.9 166.2L346.3 167.7L346.7 169.2L347.1 170.6L347.5 172.1L347.9 173.5L348.3 175.0L348.8 176.5L349.2 177.9L349.7 179.4L350.2 180.8L350.7 182.2L351.2 183.6L351.8 185.1L352.4 186.5L353.1 187.8L354.0 189.0L355.1 190.1L356.3 191.0L357.6 191.5L359.1 192.0L360.6 192.4L362.1 192.8L363.5 193.1L365.0 193.3L366.5 193.6L368.0 193.8L369.5 194.0L371.0 194.2L372.5 194.3L374.1 194.5L375.6 194.6L377.1 194.7L378.6 194.9L380.1 195.1L381.6 195.4L383.0 195.6L384.5 196.0L386.0 196.3L387.5 196.6L389.0 196.9L390.5 197.1L392.0 197.3L393.5 197.5L395.0 197.7L396.5 197.9L398.0 198.1L399.5 198.2L401.0 198.4L402.5 198.6L404.0 198.8L405.5 199.0L407.0 199.3L408.5 199.5L410.0 199.8L411.5 200.1L412.9 200.3L414.4 200.6L415.9 200.9L417.4 201.2L418.9 201.5L420.4 201.7L421.9 202.0L423.4 202.3L424.8 202.5L426.3 202.8L427.8 203.1L429.3 203.3L430.8 203.6L432.3 203.8L433.8 204.1L435.3 204.4L436.8 204.7L438.3 204.9L439.7 205.2L441.2 205.5L442.7 205.8L444.2 206.1L445.7 206.5L447.1 206.8L448.6 207.1L450.1 207.4L451.6 207.8L453.1 208.1L454.5 208.5L456.0 208.8" stroke="#000" stroke-width="2.2" stroke-dasharray="7.2 3.2" stroke-linejoin="round"/>
</g>
<rect x="84.5" y="5.4" width="370.5" height="252.1" fill="none" stroke="#777" stroke-width="0.8"/>
<path d="M88.20 257.5v-3.4M88.20 5.4v3.4M117.52 257.5v-2.2M117.52 5.4v2.2M146.84 257.5v-3.4M146.84 5.4v3.4M176.16 257.5v-2.2M176.16 5.4v2.2M205.48 257.5v-3.4M205.48 5.4v3.4M234.80 257.5v-2.2M234.80 5.4v2.2M264.12 257.5v-3.4M264.12 5.4v3.4M293.44 257.5v-2.2M293.44 5.4v2.2M322.76 257.5v-3.4M322.76 5.4v3.4M352.08 257.5v-2.2M352.08 5.4v2.2M381.40 257.5v-3.4M381.40 5.4v3.4M410.72 257.5v-2.2M410.72 5.4v2.2M440.04 257.5v-3.4M440.04 5.4v3.4M84.5 26.30h3.6M455.0 26.30h-3.6M84.5 47.30h2.4M455.0 47.30h-2.4M84.5 68.30h3.6M455.0 68.30h-3.6M84.5 89.30h2.4M455.0 89.30h-2.4M84.5 110.30h3.6M455.0 110.30h-3.6M84.5 131.30h2.4M455.0 131.30h-2.4M84.5 152.30h3.6M455.0 152.30h-3.6M84.5 173.30h2.4M455.0 173.30h-2.4M84.5 194.30h3.6M455.0 194.30h-3.6M84.5 215.30h2.4M455.0 215.30h-2.4M84.5 236.30h3.6M455.0 236.30h-3.6" stroke="#6a6a6a" stroke-width="1" fill="none" shape-rendering="crispEdges"/>
<g font-family="Liberation Sans, Arial, sans-serif" style="font-kerning:none" fill="#000" font-size="19" stroke="#000" stroke-width="0.25">
<text x="88.2" y="278.9" text-anchor="middle">0.001</text>
<text x="146.8" y="278.9" text-anchor="middle">10.000</text>
<text x="205.5" y="278.9" text-anchor="middle"><tspan letter-spacing="-0.5">10</tspan><tspan font-size="12.8" dy="-6.9" dx="0.7">5</tspan></text>
<text x="264.1" y="278.9" text-anchor="middle"><tspan letter-spacing="-0.5">10</tspan><tspan font-size="12.8" dy="-6.9" dx="0.7">9</tspan></text>
<text x="322.8" y="278.9" text-anchor="middle"><tspan letter-spacing="-0.5">10</tspan><tspan font-size="12.8" dy="-6.9" dx="0.7">13</tspan></text>
<text x="381.4" y="278.9" text-anchor="middle"><tspan letter-spacing="-0.5">10</tspan><tspan font-size="12.8" dy="-6.9" dx="0.7">17</tspan></text>
<text x="440.0" y="278.9" text-anchor="middle"><tspan letter-spacing="-0.5">10</tspan><tspan font-size="12.8" dy="-6.9" dx="0.7">21</tspan></text>
<text x="80" y="33.4" text-anchor="end">0.100</text>
<text x="80" y="75.4" text-anchor="end">0.001</text>
<text x="79.6" y="117.4" text-anchor="end"><tspan letter-spacing="-0.5">10</tspan><tspan font-size="15" dy="-5.9">−</tspan><tspan font-size="12.8" dy="-1.4">5</tspan></text>
<text x="79.6" y="159.4" text-anchor="end"><tspan letter-spacing="-0.5">10</tspan><tspan font-size="15" dy="-5.9">−</tspan><tspan font-size="12.8" dy="-1.4">7</tspan></text>
<text x="79.6" y="201.4" text-anchor="end"><tspan letter-spacing="-0.5">10</tspan><tspan font-size="15" dy="-5.9">−</tspan><tspan font-size="12.8" dy="-1.4">9</tspan></text>
<text x="79.6" y="243.4" text-anchor="end"><tspan letter-spacing="-0.5">10</tspan><tspan font-size="15" dy="-5.9">−</tspan><tspan font-size="12.8" dy="-1.4">11</tspan></text>
<text x="236" y="308.7">k/Mpc<tspan font-size="15" dy="-5.8">−</tspan><tspan font-size="12.8" dy="-1.4">1</tspan></text>
<text transform="translate(18.4,141.5) rotate(-90)" font-size="20"><tspan font-weight="bold" font-style="italic">P</tspan><tspan font-size="15.5" font-style="italic" dy="3.6" dx="-0.6">ζ</tspan></text>
</g>
<g font-family="Liberation Sans, Arial, sans-serif" style="font-kerning:none" fill="#000" font-size="11.3">
<text x="100.8" y="175.3">Planck</text>
<text x="191.7" y="34.4">BBN</text>
<text x="217.8" y="23.9">EPTA</text>
<text x="140.5" y="56.5"><tspan font-style="italic">μ</tspan>−distortion</text>
</g>
<g font-family="Liberation Sans, Arial, sans-serif" style="font-kerning:none" fill="#000" font-size="15.6" stroke="#000" stroke-width="0.2">
<path d="M476.6 88.1H527.5" stroke="#0000FF" stroke-width="2.1"/>
<text x="536.3" y="93.4">N1</text>
<path d="M476.6 115.6H527.5" stroke="#FF0000" stroke-width="2.1"/>
<text x="536.3" y="120.9">N2</text>
<path d="M476.6 142.9H527.5" stroke="#000" stroke-width="2.1"/>
<text x="536.3" y="148.2">N3</text>
<path d="M476.6 169.9H525" stroke="#0000FF" stroke-width="2.1" stroke-dasharray="7.2 3.1"/>
<text x="536.3" y="175.2">WN1</text>
<path d="M476.6 197.4H525" stroke="#FF0000" stroke-width="2.1" stroke-dasharray="7.2 3.1"/>
<text x="536.3" y="202.7">WN2</text>
<path d="M476.6 224.9H525" stroke="#000" stroke-width="2.1" stroke-dasharray="7.2 3.1"/>
<text x="536.3" y="230.2">WN3</text>
</g>
</svg></body></html>
